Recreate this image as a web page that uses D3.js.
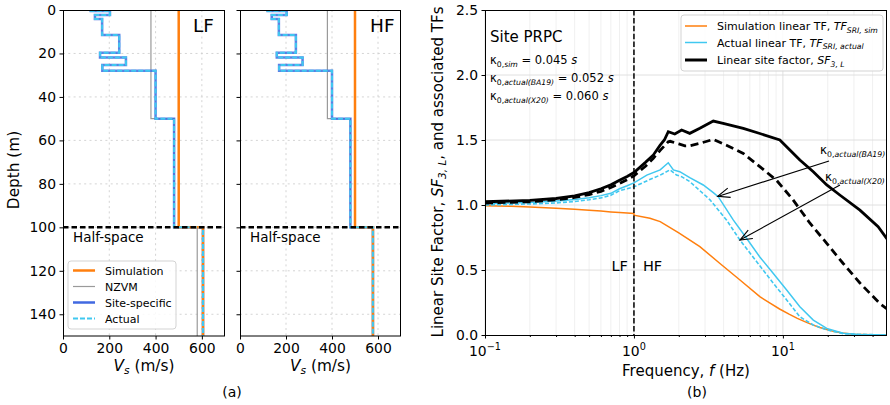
<!DOCTYPE html>
<html><head><meta charset="utf-8">
<script src="https://cdn.jsdelivr.net/npm/d3@7"></script>
<style>body{margin:0;background:#fff} svg{font-family:"DejaVu Sans",sans-serif}</style>
</head><body><svg id="c" width="890" height="405"></svg>
<script>
// ---------------- DATA ----------------
// Vs profiles (layer top depths, m; Vs, m/s)
const layerTop = [0, 0.5, 2.3, 4.1, 11.5, 19.7, 21.8, 25.3, 28, 50, 100];
const siteVsLF = [120, 203, 138, 169, 243, 160, 272, 170, 400, 480, 605];
const siteVsHF = [120, 203, 138, 169, 243, 160, 272, 170, 400, 480, 578];
const simTop = [0, 100];
const simVsLF = [500, 605];
const simVsHF = [500, 578];
const nzvmTop = [0, 50, 100];
const nzvmVs = [380, 480, 580];
const profileBottom = 150;
const depthTicks = [0, 20, 40, 60, 80, 100, 120, 140];
const vsTicks = [0, 200, 400, 600];

// Transfer functions (frequency Hz, amplitude)
const fSim  = [0.1,0.15,0.2,0.3,0.4,0.5,0.6,0.7,0.8,0.9,1.0,1.0,1.28,1.5,2.0,2.77,3.78,5.15,7.0,8.2,9.5,11,12.5,14.4,16,17.7,19.7,21.8,25,30,40,50];
const tfSim = [0.995,0.99,0.985,0.975,0.967,0.96,0.953,0.947,0.942,0.938,0.935,0.922,0.898,0.872,0.785,0.68,0.55,0.423,0.295,0.245,0.2,0.16,0.128,0.097,0.076,0.058,0.042,0.028,0.015,0.006,0.001,0];

const fBA19  = [0.1,0.2,0.3,0.4,0.5,0.6,0.7,0.8,0.9,1.0,1.22,1.5,1.7,1.84,2.03,2.37,2.92,3.41,3.68,4.64,5.7,7.0,8.6,10.6,13,16,19.7,25.4,32,50];
const tfBA19 = [1.01,1.02,1.03,1.042,1.055,1.072,1.09,1.125,1.148,1.17,1.23,1.27,1.325,1.27,1.256,1.21,1.154,1.095,1.064,0.885,0.744,0.60,0.475,0.346,0.218,0.115,0.051,0.013,0.004,0];

const fX20  = [0.1,0.2,0.3,0.4,0.5,0.6,0.7,0.8,0.9,1.0,1.3,1.5,1.745,1.93,2.09,2.37,3.24,4.18,5.15,6.3,8.6,10.6,13,16,19.7,26,50];
const tfX20 = [1.0,1.008,1.016,1.027,1.04,1.055,1.075,1.11,1.125,1.14,1.2,1.23,1.27,1.23,1.218,1.18,1.04,0.885,0.73,0.60,0.40,0.27,0.14,0.077,0.04,0.008,0];

const fSFBA19 = [0.1,0.2,0.3,0.4,0.5,0.6,0.7,0.8,0.9,1.0,1.2,1.35,1.5,1.6,1.7,1.88,2.09,2.37,2.77,3.41,3.97,5.42,7.0,9.54,13,16,19.7,24.1,32.9,43.6,50];
const sfBA19  = [1.025,1.035,1.05,1.07,1.095,1.125,1.155,1.19,1.22,1.25,1.33,1.385,1.46,1.5,1.564,1.546,1.577,1.551,1.59,1.646,1.628,1.59,1.55,1.5,1.346,1.256,1.154,1.077,0.96,0.833,0.74];

const fSFX20 = [0.1,0.2,0.3,0.4,0.5,0.6,0.7,0.8,0.9,1.0,1.2,1.35,1.5,1.7,1.75,2.0,2.2,2.37,2.77,3.41,4.18,5.42,7.0,9.07,11.7,15.2,19.7,25.4,32.9,44.6,50];
const sfX20  = [1.015,1.025,1.04,1.058,1.08,1.105,1.135,1.165,1.195,1.225,1.3,1.36,1.42,1.487,1.49,1.47,1.455,1.456,1.474,1.505,1.46,1.397,1.295,1.19,1.04,0.86,0.705,0.55,0.40,0.244,0.2];

const sfTicks = [0, 0.5, 1, 1.5, 2, 2.5];
const freqMajor = [0.1, 1, 10];
const freqMinor = [0.2,0.3,0.4,0.5,0.6,0.7,0.8,0.9,2,3,4,5,6,7,8,9,20,30,40];

// ---------------- STYLE ----------------
const C = {orange:"#ff7f0e", cyan:"#40c8f0", blue:"#4169e1", grey:"#9a9a9a"};
const svg = d3.select("#c");
const TICKF = 13.9;

function rich(g, x, y, parts, anchor){
  const t = g.append("text").attr("x", x).attr("y", y).attr("text-anchor", anchor||"start");
  let prev = 0;
  parts.forEach(p => {
    const sh = p.shift || 0;
    t.append("tspan").attr("dy", sh - prev).attr("font-size", p.size)
      .attr("font-style", p.italic ? "italic" : "normal").text(p.t);
    prev = sh;
  });
  return t;
}

// ---------------- LEFT PANELS ----------------
const yD = d3.scaleLinear().domain([0, 150]).range([10, 336]);
function stepPts(tops, vs){
  const pts = [];
  for (let i = 0; i < tops.length; i++){
    pts.push([vs[i], tops[i]]);
    pts.push([vs[i], i < tops.length - 1 ? tops[i+1] : profileBottom]);
  }
  return pts;
}
function profilePanel(x0, x1, id, label, siteVs, simVs, showYLabels, legend){
  const xV = d3.scaleLinear().domain([0, 700]).range([x0, x1]);
  const g = svg.append("g");
  g.append("clipPath").attr("id", id).append("rect").attr("x", x0).attr("y", 10).attr("width", x1-x0).attr("height", 326);
  g.selectAll(".gx").data(vsTicks.slice(1)).join("line").attr("x1", d=>xV(d)).attr("x2", d=>xV(d))
    .attr("y1", 10).attr("y2", 336).attr("stroke", "#cfcfcf").attr("stroke-width", 0.9).attr("stroke-dasharray", "2,3.3");
  g.selectAll(".gy").data(depthTicks.slice(1)).join("line").attr("y1", d=>yD(d)).attr("y2", d=>yD(d))
    .attr("x1", x0).attr("x2", x1).attr("stroke", "#cfcfcf").attr("stroke-width", 0.9).attr("stroke-dasharray", "2,3.3");
  const line = d3.line().x(d=>xV(d[0])).y(d=>yD(d[1]));
  const L = g.append("g").attr("clip-path", `url(#${id})`);
  L.append("path").attr("d", line(stepPts(nzvmTop, nzvmVs))).attr("fill","none").attr("stroke", C.grey).attr("stroke-width", 1.2);
  L.append("path").attr("d", line(stepPts(layerTop, siteVs))).attr("fill","none").attr("stroke", C.blue).attr("stroke-width", 2.5).attr("stroke-opacity",0.85);
  L.append("path").attr("d", line(stepPts(simTop, simVs))).attr("fill","none").attr("stroke", C.orange).attr("stroke-width", 2.5);
  L.append("path").attr("d", line(stepPts(layerTop, siteVs))).attr("fill","none").attr("stroke", C.cyan).attr("stroke-width", 2).attr("stroke-dasharray","5,2");
  g.append("line").attr("x1", x0).attr("x2", x1).attr("y1", yD(100)).attr("y2", yD(100))
    .attr("stroke", "#000").attr("stroke-width", 2.5).attr("stroke-dasharray", "5.5,3");
  g.append("text").attr("x", x0 + 10).attr("y", 242).attr("font-size", 13.5).text("Half-space");
  g.append("text").attr("x", x0 + 130).attr("y", 32).attr("font-size", 18.5).text(label);
  const ax = d3.axisBottom(xV).tickValues(vsTicks).tickSize(3.5).tickPadding(3.5);
  const gx = g.append("g").attr("transform", "translate(0,336)").call(ax);
  const ay = d3.axisLeft(yD).tickValues(depthTicks).tickSize(3.5).tickPadding(3.5);
  if (!showYLabels) ay.tickFormat("");
  const gy = g.append("g").attr("transform", `translate(${x0},0)`).call(ay);
  [gx, gy].forEach(a => { a.select(".domain").remove(); a.selectAll("text").attr("font-size", TICKF).attr("font-family", "DejaVu Sans").attr("fill","#000"); a.selectAll("line").attr("stroke","#000"); });
  g.append("rect").attr("x", x0+0.5).attr("y", 10.5).attr("width", x1-x0-1).attr("height", 325.5).attr("fill","none").attr("stroke","#000").attr("stroke-width",1);
  rich(g, (x0+x1)/2, 371, [{t:"V", size:15.3, italic:true},{t:"s", size:10.7, italic:true, shift:3},{t:" (m/s)", size:15.3, shift:0}], "middle");
  if (legend){
    const lg = g.append("g");
    lg.append("rect").attr("x", 68).attr("y", 261).attr("width", 108).attr("height", 68).attr("rx", 3)
      .attr("fill", "#fff").attr("fill-opacity", 0.85).attr("stroke", "#d3d3d3");
    const items = [["Simulation", C.orange, 2.5, null], ["NZVM", C.grey, 1.2, null], ["Site-specific", C.blue, 2.5, null], ["Actual", C.cyan, 2, "5,2"]];
    const ys = [270.5, 286.5, 302.5, 318.5];
    items.forEach((it, i) => {
      lg.append("line").attr("x1", 73).attr("x2", 95).attr("y1", ys[i]).attr("y2", ys[i]).attr("stroke", it[1]).attr("stroke-width", it[2]).attr("stroke-dasharray", it[3]);
      lg.append("text").attr("x", 105).attr("y", ys[i] + 4).attr("font-size", 11).text(it[0]);
    });
  }
}
profilePanel(63, 225, "clipLF", "LF", siteVsLF, simVsLF, true, true);
profilePanel(240, 401, "clipHF", "HF", siteVsHF, simVsHF, false, false);
svg.append("text").attr("transform", "translate(19,170) rotate(-90)").attr("text-anchor","middle").attr("font-size", 15.3).text("Depth (m)");
svg.append("text").attr("x", 232).attr("y", 397).attr("text-anchor","middle").attr("font-size", 14).text("(a)");

// ---------------- RIGHT PANEL ----------------
const RX0 = 485, RX1 = 887, RY0 = 10, RY1 = 335;
const xF = d3.scaleLog().domain([0.1, 50]).range([RX0, RX1]);
const yS = d3.scaleLinear().domain([0, 2.5]).range([RY1, RY0]);
const R = svg.append("g");
R.append("clipPath").attr("id","clipR").append("rect").attr("x",RX0).attr("y",RY0).attr("width",RX1-RX0).attr("height",RY1-RY0);
R.selectAll(".mg").data(freqMinor).join("line").attr("x1", d=>xF(d)).attr("x2", d=>xF(d)).attr("y1", RY0).attr("y2", RY1)
  .attr("stroke", "#ececec").attr("stroke-width", 0.8);
R.selectAll(".Mg").data(freqMajor).join("line").attr("x1", d=>xF(d)).attr("x2", d=>xF(d)).attr("y1", RY0).attr("y2", RY1)
  .attr("stroke", "#dcdcdc").attr("stroke-width", 0.9);
R.selectAll(".hg").data(sfTicks.slice(1,-1)).join("line").attr("y1", d=>yS(d)).attr("y2", d=>yS(d)).attr("x1", RX0).attr("x2", RX1)
  .attr("stroke", "#dcdcdc").attr("stroke-width", 0.9);
const lineF = d3.line().x(d=>xF(d[0])).y(d=>yS(d[1]));
const zip = (a, b) => a.map((v, i) => [v, b[i]]);
const RL = R.append("g").attr("clip-path","url(#clipR)");
RL.append("path").attr("d", lineF(zip(fSim, tfSim))).attr("fill","none").attr("stroke", C.orange).attr("stroke-width", 1.5);
RL.append("path").attr("d", lineF(zip(fBA19, tfBA19))).attr("fill","none").attr("stroke", C.cyan).attr("stroke-width", 1.5);
RL.append("path").attr("d", lineF(zip(fX20, tfX20))).attr("fill","none").attr("stroke", C.cyan).attr("stroke-width", 1.6).attr("stroke-dasharray","4,2");
RL.append("path").attr("d", lineF(zip(fSFBA19, sfBA19))).attr("fill","none").attr("stroke", "#000").attr("stroke-width", 2.8);
RL.append("path").attr("d", lineF(zip(fSFX20, sfX20))).attr("fill","none").attr("stroke", "#000").attr("stroke-width", 2.8).attr("stroke-dasharray","8,4.5");
R.append("line").attr("x1", xF(1)).attr("x2", xF(1)).attr("y1", RY0).attr("y2", RY1).attr("stroke","#000").attr("stroke-width",1.5).attr("stroke-dasharray","5.5,2.4");
R.append("text").attr("x", xF(1) - 6).attr("y", 271).attr("text-anchor","end").attr("font-size", 14.5).text("LF");
R.append("text").attr("x", xF(1) + 9).attr("y", 271).attr("font-size", 14.5).text("HF");
R.append("text").attr("x", 490).attr("y", 42).attr("font-size", 15).text("Site PRPC");
const kap = [["0,", "sim", " = 0.045 "], ["0,", "actual(BA19)", " = 0.052 "], ["0,", "actual(X20)", " = 0.060 "]];
[64, 82, 100].forEach((yy, i) => {
  rich(R, 490, yy, [{t:"κ", size:11.5},{t:kap[i][0], size:7.7, shift:2.5},{t:kap[i][1], size:7.7, italic:true, shift:2.5},{t:kap[i][2], size:11.5, shift:0},{t:"s", size:11.5, italic:true, shift:0}]);
});
function arrow(x1, y1, fx, fv){
  const x2 = xF(fx), y2 = yS(fv);
  R.append("line").attr("x1", x1).attr("y1", y1).attr("x2", x2).attr("y2", y2).attr("stroke","#000").attr("stroke-width",1.1);
  const ang = Math.atan2(y1 - y2, x1 - x2), L = 13, a = 0.38;
  const p1 = [x2 + L*Math.cos(ang + a), y2 + L*Math.sin(ang + a)];
  const p2 = [x2 + L*Math.cos(ang - a), y2 + L*Math.sin(ang - a)];
  R.append("path").attr("d", `M${p1}L${x2},${y2}L${p2}`).attr("fill","none").attr("stroke","#000").attr("stroke-width",1.1);
}
arrow(829, 161, 3.65, 1.066);
arrow(840, 185, 5.15, 0.73);
rich(R, 820, 154, [{t:"κ", size:12},{t:"0,", size:7.8, shift:2.5},{t:"actual(BA19)", size:7.8, italic:true, shift:2.5}]);
rich(R, 825, 181, [{t:"κ", size:12},{t:"0,", size:7.8, shift:2.5},{t:"actual(X20)", size:7.8, italic:true, shift:2.5}]);
const axR = d3.axisBottom(xF).tickValues(freqMajor).tickFormat("").tickSize(3.5);
const axRm = d3.axisBottom(xF).tickValues(freqMinor).tickFormat("").tickSize(2);
const ayR = d3.axisLeft(yS).tickValues(sfTicks).tickFormat(d3.format(".1f")).tickSize(3.5).tickPadding(3.5);
const gxr = R.append("g").attr("transform", `translate(0,${RY1})`).call(axR);
const gxm = R.append("g").attr("transform", `translate(0,${RY1})`).call(axRm);
const gyr = R.append("g").attr("transform", `translate(${RX0},0)`).call(ayR);
[gxr, gxm, gyr].forEach(a => { a.select(".domain").remove(); a.selectAll("text").attr("font-size", TICKF).attr("font-family","DejaVu Sans").attr("fill","#000"); a.selectAll("line").attr("stroke","#000"); });
const expLabel = {0.1:"−1", 1:"0", 10:"1"};
freqMajor.forEach(f => {
  rich(R, xF(f), 356, [{t:"10", size:TICKF},{t:expLabel[f], size:9.7, shift:-6}], "middle");
});
R.append("rect").attr("x", RX0+0.5).attr("y", RY0+0.5).attr("width", RX1-RX0-1).attr("height", RY1-RY0).attr("fill","none").attr("stroke","#000").attr("stroke-width",1);
rich(R, (RX0+RX1)/2, 376, [{t:"Frequency, ", size:15},{t:"f", size:15, italic:true},{t:" (Hz)", size:15}], "middle");
R.append("text").attr("x", 697).attr("y", 397).attr("text-anchor","middle").attr("font-size", 14).text("(b)");
const yl = R.append("g").attr("transform", "translate(443,172) rotate(-90)");
rich(yl, 0, 0, [{t:"Linear Site Factor, ", size:15},{t:"SF", size:15, italic:true},{t:"3, L", size:10.5, italic:true, shift:3},{t:", and associated TFs", size:15, shift:0}], "middle");
const lgR = R.append("g");
lgR.append("rect").attr("x", 681).attr("y", 15).attr("width", 202).attr("height", 56).attr("rx", 3)
  .attr("fill","#fff").attr("fill-opacity",0.85).attr("stroke","#d3d3d3");
const legR = [
  {txt:"Simulation linear TF, ", sub:"SRI, sim", col:C.orange, w:1.5},
  {txt:"Actual linear TF, ", sub:"SRI, actual", col:C.cyan, w:1.5},
  {txt:"Linear site factor, ", sub:"3, L", col:"#000", w:3, sym:"SF"}
];
[26, 42.5, 60].forEach((yy, i) => {
  const it = legR[i];
  lgR.append("line").attr("x1", 685).attr("x2", 707).attr("y1", yy).attr("y2", yy).attr("stroke", it.col).attr("stroke-width", it.w);
  rich(lgR, 717, yy + 4, [{t:it.txt, size:11},{t:it.sym || "TF", size:11, italic:true},{t:it.sub, size:7.7, italic:true, shift:2.5}]);
});
</script></body></html>
